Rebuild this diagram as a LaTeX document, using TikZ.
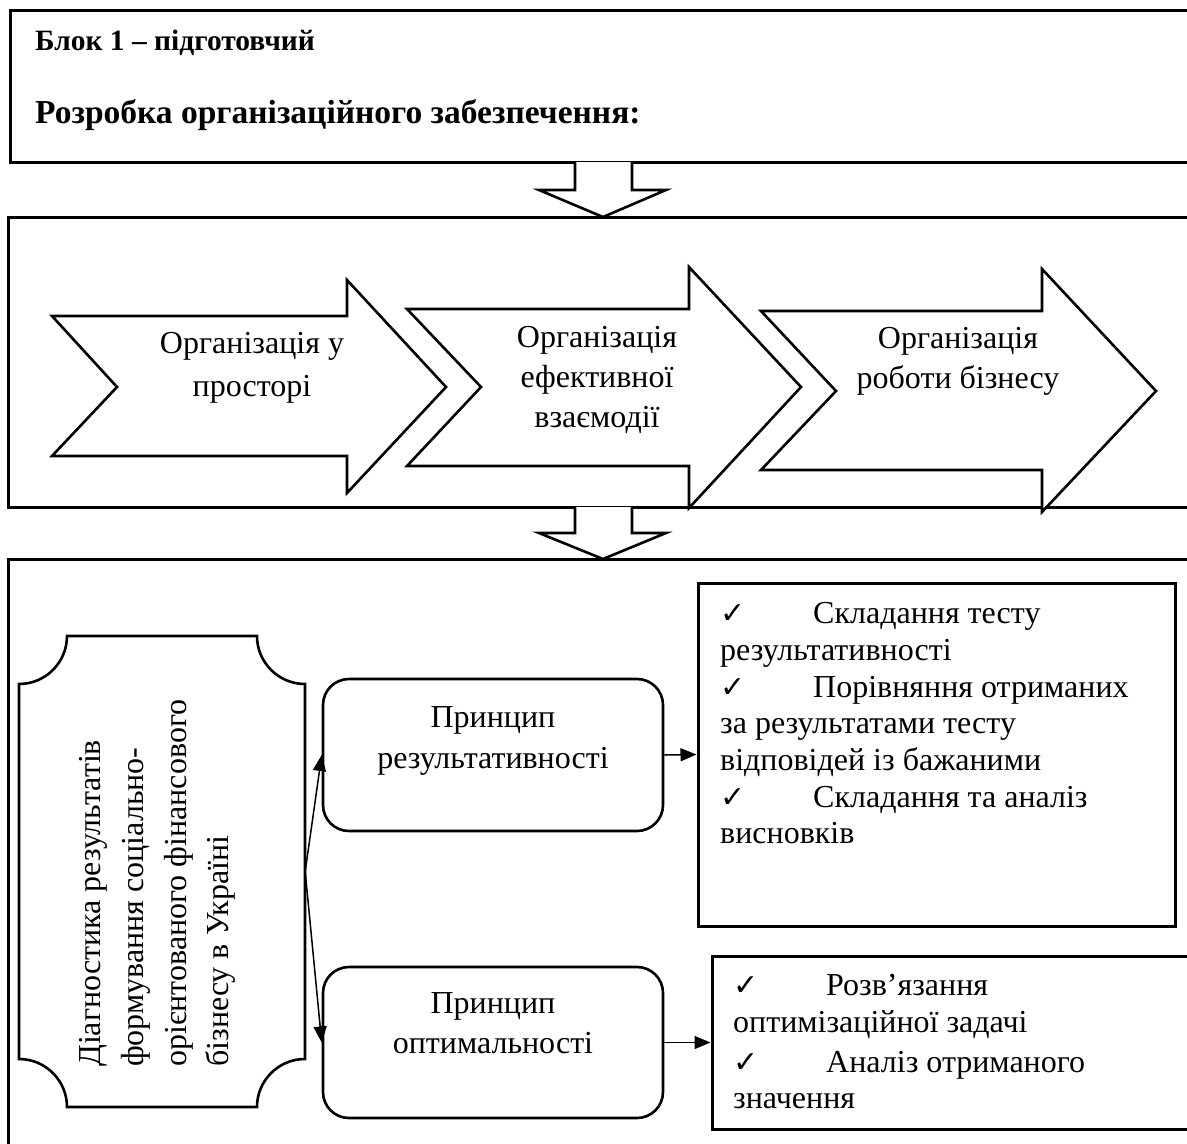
\documentclass[tikz,border=0pt]{standalone}
\usepackage{fontspec}
\setmainfont{Liberation Serif}
\newfontfamily\checkfont{DejaVu Sans}
\usetikzlibrary{arrows.meta}
\begin{document}
\begin{tikzpicture}[x=1pt,y=-1pt,
  outerbox/.style={draw,line width=3pt},
  shapeline/.style={draw,line width=2.6pt,fill=white,line join=miter},
  rbox/.style={draw,line width=2.6pt,rounded corners=26pt,inner sep=0,minimum width=340pt},
  lbox/.style={draw,line width=3pt,inner sep=0},
  conn/.style={line width=1.5pt,-{Triangle[length=16pt,width=13pt]}},
  ln/.style={inner sep=0,anchor=base,font=\fontsize{32}{38}\selectfont},
  lnw/.style={inner sep=0,anchor=base west,font=\fontsize{32}{38}\selectfont},
  hd/.style={inner sep=0,anchor=base west,font=\bfseries\fontsize{29.5}{34}\selectfont},
  hdb/.style={inner sep=0,anchor=base west,font=\bfseries\fontsize{33.5}{38}\selectfont},
  vt/.style={inner sep=0,anchor=base west,rotate=90,font=\fontsize{32}{38}\selectfont}
]
\newcommand{\chk}{\makebox[93pt][l]{\checkfont\fontsize{30}{30}\selectfont ✓}}
\path[use as bounding box,clip] (0,0) rectangle (1187,1144);

% outer boxes
\draw[outerbox] (10,10) rectangle (1210,162);
\draw[outerbox] (8,217) rectangle (1210,507);
\draw[outerbox] (8,559) rectangle (1210,1170);

% header texts
\node[hd] (h1) at (35,50) {Блок 1 – підготовчий};
\node[hdb] (h2) at (35,123) {Розробка організаційного забезпечення:};

% down arrows
\draw[shapeline] (575,162) -- (575,190) -- (539,190) -- (603,217) -- (666,190) -- (632,190) -- (632,162);
\draw[shapeline] (575,507) -- (575,533) -- (539,533) -- (603,559) -- (666,533) -- (632,533) -- (632,507);

% block arrows
\draw[shapeline] (52,316) -- (347,316) -- (347,280) -- (446,387) -- (347,493) -- (347,456) -- (52,456) -- (117,387) -- cycle;
\draw[shapeline] (407,309) -- (689,309) -- (689,267) -- (801,387) -- (689,508) -- (689,466) -- (407,466) -- (481,387) -- cycle;
\draw[shapeline] (761,311) -- (1042,311) -- (1042,269) -- (1156,391) -- (1042,512) -- (1042,470) -- (761,470) -- (836,391) -- cycle;

\node[ln] (a1a) at (252,353) {Організація у};
\node[ln] (a1b) at (252,396) {просторі};
\node[ln] (a2a) at (597,347) {Організація};
\node[ln] (a2b) at (597,387) {ефективної};
\node[ln] (a2c) at (597,427) {взаємодії};
\node[ln] (a3a) at (958,348) {Організація};
\node[ln] (a3b) at (958,388) {роботи бізнесу};

% scroll
\node[inner sep=0,minimum width=286pt,minimum height=471pt] (diag) at (162,871.5) {};
\draw[line width=2.6pt] (67,636) -- (257,636) .. controls (257,662.5) and (278.5,684) .. (305,684)
  -- (305,1059) .. controls (278.5,1059) and (257,1080.5) .. (257,1107)
  -- (67,1107) .. controls (67,1080.5) and (45.5,1059) .. (19,1059)
  -- (19,684) .. controls (45.5,684) and (67,662.5) .. (67,636) -- cycle;
\node[vt] (d1) at (100,1067) {Діагностика результатів};
\node[vt] (d2) at (143,1067) {формування соціально-};
\node[vt] (d3) at (186,1067) {орієнтованого фінансового};
\node[vt] (d4) at (228,1067) {бізнесу в Україні};

% principle boxes
\node[rbox,minimum height=152pt] (b1) at (493,755) {};
\node[ln] (b1a) at (493,727) {Принцип};
\node[ln] (b1b) at (493,768) {результативності};
\node[rbox,minimum height=151pt] (b2) at (493,1042.5) {};
\node[ln] (b2a) at (493,1013) {Принцип};
\node[ln] (b2b) at (493,1053) {оптимальності};

% list boxes
\node[lbox,minimum width=477pt,minimum height=343pt] (r1) at (936.5,754.5) {};
\node[lnw] (r1a) at (720,623) {\chk Складання тесту};
\node[lnw] (r1b) at (720,660) {результативності};
\node[lnw] (r1c) at (720,697) {\chk Порівняння отриманих};
\node[lnw] (r1d) at (720,733) {за результатами тесту};
\node[lnw] (r1e) at (720,770) {відповідей із бажаними};
\node[lnw] (r1f) at (720,807) {\chk Складання та аналіз};
\node[lnw] (r1g) at (720,843) {висновків};

\node[lbox,minimum width=498pt,minimum height=173pt] (r2) at (961,1042.5) {};
\node[lnw] (r2a) at (733,995) {\chk Розв’язання};
\node[lnw] (r2b) at (733,1032) {оптимізаційної задачі};
\node[lnw] (r2c) at (733,1072) {\chk Аналіз отриманого};
\node[lnw] (r2d) at (733,1108) {значення};

% connectors
\draw[conn] (diag.east) -- (b1.west);
\draw[conn] (diag.east) -- (b2.west);
\draw[conn] (b1.east) -- (r1.west);
\draw[conn] (b2.east) -- (r2.west);
\end{tikzpicture}
\end{document}
